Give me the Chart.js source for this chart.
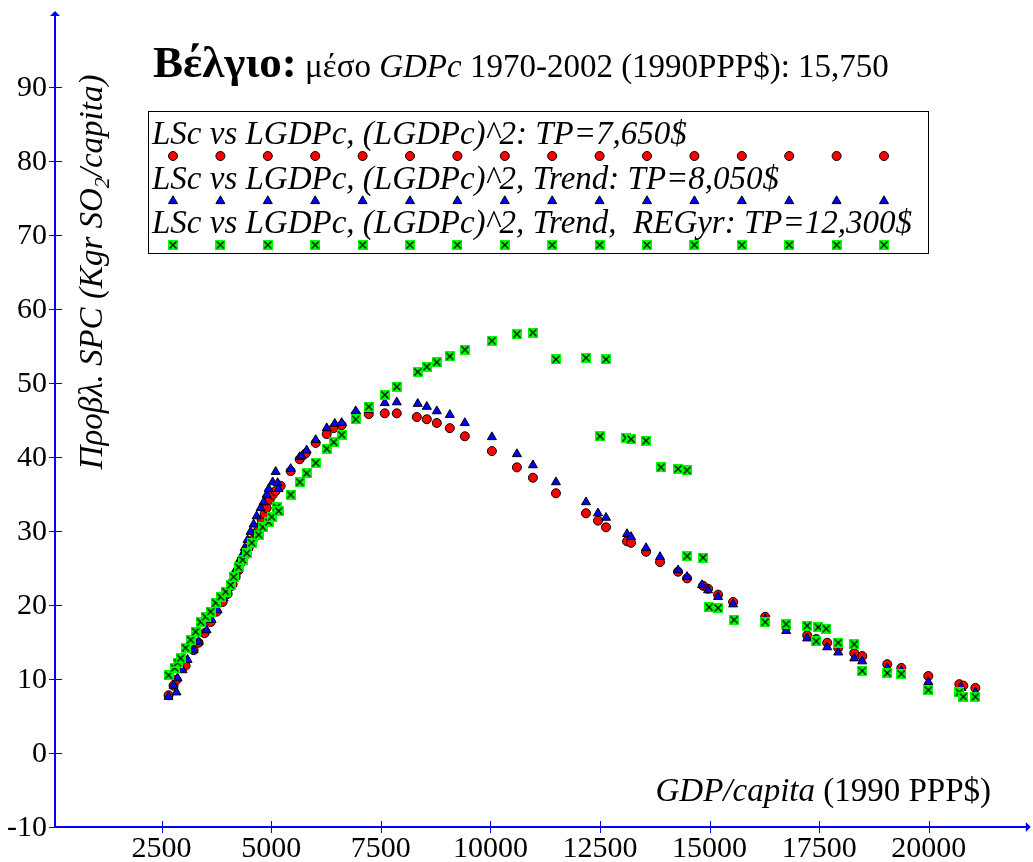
<!DOCTYPE html>
<html>
<head>
<meta charset="utf-8">
<title>Βέλγιο: SPC vs GDPc</title>
<script src="https://cdn.jsdelivr.net/npm/chart.js@4.4.0/dist/chart.umd.min.js"></script>
<style>
  html, body { margin: 0; padding: 0; background: #fff; }
  canvas { display: block; }
</style>
</head>
<body>
<canvas id="chart" width="1033" height="862"></canvas>
<script>
// ---- axis ticks ----
const xTicks = [2500, 5000, 7500, 10000, 12500, 15000, 17500, 20000];
const yTicks = [-10, 0, 10, 20, 30, 40, 50, 60, 70, 80, 90];

// ---- LSc vs LGDPc, (LGDPc)^2 ----
const quadGdp = [
  2660, 2774, 2842, 3048, 3231, 3345, 3482, 3619, 3756, 3893,
  4007, 4121, 4190, 4258, 4326, 4418, 4486, 4578, 4646, 4715,
  4783, 4852, 4897, 4966, 5034, 5103, 5217, 5445, 5651, 5788,
  6016, 6267, 6427, 6609, 6929, 7226, 7591, 7865, 8322, 8550,
  8778, 9075, 9417, 10034, 10605, 10970, 11495, 12180, 12454, 12637,
  13116, 13208, 13550, 13869, 14280, 14486, 14851, 14965, 15193, 15536,
  16267, 16746, 17225, 17431, 17682, 17933, 18298, 18481, 19052, 19372,
  19988, 20696, 20787, 21061
];
const quadSpc = [
  7.8, 9.1, 9.9, 11.8, 13.9, 14.9, 16.2, 17.7, 19.1, 20.4,
  21.5, 22.8, 23.8, 24.7, 25.8, 26.8, 27.7, 28.8, 29.7, 30.5,
  31.5, 32.3, 33.1, 34.2, 34.9, 35.4, 36.1, 38.1, 39.7, 40.5,
  41.9, 43.1, 43.9, 44.3, 45.8, 45.8, 45.9, 45.9, 45.4, 45.1,
  44.6, 43.9, 42.8, 40.8, 38.6, 37.2, 35.1, 32.4, 31.4, 30.5,
  28.6, 28.4, 27.2, 25.8, 24.5, 23.6, 22.6, 22.2, 21.4, 20.4,
  18.4, 17.0, 15.9, 15.4, 14.9, 14.2, 13.5, 13.1, 12.0, 11.5,
  10.4, 9.3, 9.1, 8.8
];

// ---- LSc vs LGDPc, (LGDPc)^2, Trend ----
const trendGdp = [
  2660, 2842, 2774, 2865, 2979, 3094, 3231, 3345, 3527, 3642,
  3778, 3915, 4030, 4121, 4190, 4258, 4326, 4395, 4463, 4532,
  4600, 4669, 4760, 4829, 4897, 4943, 5034, 5103, 5148, 5171,
  5445, 5651, 5696, 5810, 6016, 6267, 6450, 6609, 6929, 7226,
  7591, 7865, 8344, 8550, 8778, 9075, 9417, 10034, 10605, 10970,
  11495, 12180, 12454, 12637, 13116, 13208, 13550, 13869, 14280, 14486,
  14828, 14965, 15193, 15536, 16267, 16746, 17225, 17431, 17682, 17933,
  18298, 18481, 19052, 19372, 19988, 20741, 21061
];
const trendSpc = [
  7.6, 8.2, 9.1, 10.1, 11.2, 12.6, 13.9, 15.0, 16.6, 18.0,
  19.3, 20.9, 22.3, 23.6, 24.7, 25.8, 26.6, 27.7, 28.8, 29.9,
  30.9, 32.0, 33.1, 33.9, 34.9, 35.7, 36.6, 38.0, 36.5, 35.7,
  38.4, 40.0, 40.1, 40.9, 42.3, 43.9, 44.5, 44.6, 46.2, 46.4,
  47.3, 47.4, 47.2, 46.8, 46.2, 45.7, 44.6, 42.7, 40.4, 38.9,
  36.6, 33.9, 32.4, 31.8, 29.6, 29.2, 27.7, 26.5, 24.7, 23.8,
  22.7, 22.0, 21.1, 20.1, 18.1, 16.5, 15.5, 14.9, 14.3, 13.6,
  12.8, 12.4, 11.5, 11.1, 9.6, 8.8, 8.2
];

// ---- LSc vs LGDPc, (LGDPc)^2, Trend, REGyr ----
const regyrGdp = [
  2660, 2797, 2865, 2934, 3048, 3162, 3276, 3391, 3505, 3619,
  3733, 3847, 3961, 4075, 4144, 4258, 4349, 4441, 4555, 4715,
  4806, 4943, 5011, 5125, 5171, 5445, 5651, 5810, 6016, 6267,
  6427, 6609, 6929, 7226, 7591, 7865, 8344, 8550, 8778, 9075,
  9417, 10034, 10605, 10970, 11495, 12180, 12637, 12500, 13094, 13208,
  13550, 13892, 14280, 14486, 14486, 14851, 14988, 15193, 15559, 16267,
  16746, 17225, 17431, 17477, 17659, 17933, 18298, 18481, 19052, 19372,
  19988, 20696, 20787, 21061
];
const regyrSpc = [
  10.5, 11.5, 12.2, 12.8, 14.2, 15.3, 16.4, 17.7, 18.4, 19.1,
  20.3, 21.1, 21.8, 22.7, 23.8, 25.1, 26.1, 27.0, 28.4, 29.5,
  30.5, 31.2, 31.9, 33.2, 32.7, 34.9, 36.6, 37.8, 39.2, 41.1,
  42.0, 43.0, 45.1, 46.8, 48.4, 49.5, 51.5, 52.2, 52.8, 53.6,
  54.5, 55.7, 56.6, 56.8, 53.2, 53.4, 53.2, 42.8, 42.6, 42.4,
  42.2, 38.6, 38.4, 38.2, 26.6, 26.4, 19.7, 19.6, 18.0, 17.7,
  17.4, 17.2, 15.1, 17.0, 16.8, 14.9, 14.7, 11.1, 10.8, 10.7,
  8.5, 8.2, 7.6, 7.6
];

const legendLabels = [
  'LSc vs LGDPc, (LGDPc)^2: TP=7,650$',
  'LSc vs LGDPc, (LGDPc)^2, Trend: TP=8,050$',
  'LSc vs LGDPc, (LGDPc)^2, Trend,  REGyr: TP=12,300$'
];

const SERIF = "'Liberation Serif', 'Times New Roman', 'DejaVu Serif', serif";
const AXIS_BLUE = '#0000ff';

function toPoints(xs, ys) {
  return xs.map((x, i) => ({ x: x, y: ys[i] }));
}

// green square with a black cross, used as the REGyr marker
function crossBox(size) {
  const c = document.createElement('canvas');
  c.width = size;
  c.height = size;
  const g = c.getContext('2d');
  g.fillStyle = '#00ff00';
  g.fillRect(0, 0, size, size);
  g.strokeStyle = '#000';
  g.lineWidth = 1.2;
  g.beginPath();
  g.moveTo(1.5, 1.5);
  g.lineTo(size - 1.5, size - 1.5);
  g.moveTo(size - 1.5, 1.5);
  g.lineTo(1.5, size - 1.5);
  g.stroke();
  return c;
}
const crossMarker = crossBox(10);

function drawCircle(ctx, x, y) {
  ctx.beginPath();
  ctx.arc(x, y, 4.5, 0, Math.PI * 2);
  ctx.fillStyle = '#ff0000';
  ctx.fill();
  ctx.lineWidth = 1;
  ctx.strokeStyle = '#000';
  ctx.stroke();
}

function drawTriangle(ctx, x, y) {
  const r = 5.2;
  ctx.beginPath();
  for (let k = 0; k < 3; k++) {
    const a = k * 2 * Math.PI / 3;
    const px = x + Math.sin(a) * r;
    const py = y - Math.cos(a) * r;
    if (k === 0) ctx.moveTo(px, py); else ctx.lineTo(px, py);
  }
  ctx.closePath();
  ctx.fillStyle = AXIS_BLUE;
  ctx.fill();
  ctx.lineWidth = 1;
  ctx.strokeStyle = '#000';
  ctx.stroke();
}

// draws runs of text with different fonts one after another, returns end x
function drawRuns(ctx, runs, x, y) {
  let cx = x;
  runs.forEach(r => {
    ctx.font = r.font;
    ctx.fillText(r.text, cx, y + (r.dy || 0));
    cx += ctx.measureText(r.text).width;
  });
  return cx;
}
function runsWidth(ctx, runs) {
  let w = 0;
  runs.forEach(r => {
    ctx.font = r.font;
    w += ctx.measureText(r.text).width;
  });
  return w;
}

const axesPlugin = {
  id: 'blueAxes',
  beforeDatasetsDraw(chart) {
    const ctx = chart.ctx;
    const xs = chart.scales.x;
    const ys = chart.scales.y;
    const left = chart.chartArea.left;
    const bottom = chart.chartArea.bottom;
    const top = chart.chartArea.top;
    const right = chart.chartArea.right;

    ctx.save();
    ctx.strokeStyle = AXIS_BLUE;
    ctx.fillStyle = AXIS_BLUE;

    // axis lines
    ctx.lineWidth = 2;
    ctx.beginPath();
    ctx.moveTo(left, bottom);
    ctx.lineTo(left, top + 2);
    ctx.moveTo(left - 1, bottom);
    ctx.lineTo(right, bottom);
    ctx.stroke();

    // arrow heads
    ctx.beginPath();
    ctx.moveTo(left, top - 2);
    ctx.lineTo(left - 5, top + 3);
    ctx.lineTo(left + 5, top + 3);
    ctx.closePath();
    ctx.fill();
    ctx.beginPath();
    ctx.moveTo(right + 4, bottom);
    ctx.lineTo(right - 1, bottom - 5);
    ctx.lineTo(right - 1, bottom + 5);
    ctx.closePath();
    ctx.fill();

    // tick marks
    ctx.lineWidth = 1;
    ctx.beginPath();
    yTicks.forEach(v => {
      const py = Math.round(ys.getPixelForValue(v)) + 0.5;
      ctx.moveTo(left - 6, py);
      ctx.lineTo(left + 7, py);
    });
    xTicks.forEach(v => {
      const px = Math.round(xs.getPixelForValue(v)) + 0.5;
      ctx.moveTo(px, bottom - 6);
      ctx.lineTo(px, bottom + 6);
    });
    ctx.stroke();

    // tick labels
    ctx.fillStyle = '#000';
    ctx.font = '30px ' + SERIF;
    ctx.textAlign = 'right';
    ctx.textBaseline = 'middle';
    yTicks.forEach(v => {
      ctx.fillText(String(v), left - 8, ys.getPixelForValue(v) + 1);
    });
    ctx.textAlign = 'center';
    ctx.textBaseline = 'alphabetic';
    xTicks.forEach(v => {
      ctx.fillText(String(v), xs.getPixelForValue(v), bottom + 30);
    });
    ctx.restore();
  },
  afterDraw(chart) {
    const ctx = chart.ctx;
    ctx.save();
    ctx.fillStyle = '#000';
    ctx.textAlign = 'left';
    ctx.textBaseline = 'alphabetic';

    // title
    drawRuns(ctx, [
      { text: 'Βέλγιο:', font: 'bold 45px ' + SERIF },
      { text: ' ', font: '33px ' + SERIF },
      { text: 'μέσο ', font: '33px ' + SERIF },
      { text: 'GDPc', font: 'italic 33px ' + SERIF },
      { text: ' 1970-2002 (1990PPP$): 15,750', font: '33px ' + SERIF }
    ], 153, 77);

    // x axis title, right aligned
    const xRuns = [
      { text: 'GDP/capita', font: 'italic 33px ' + SERIF },
      { text: ' (1990 PPP$)', font: '33px ' + SERIF }
    ];
    drawRuns(ctx, xRuns, 991 - runsWidth(ctx, xRuns), 801);

    // y axis title, rotated, with SO2 subscript
    const yRuns = [
      { text: 'Προβλ. SPC (Kgr SO', font: 'italic 33px ' + SERIF },
      { text: '2', font: 'italic 22px ' + SERIF, dy: 7 },
      { text: '/capita)', font: 'italic 33px ' + SERIF }
    ];
    ctx.translate(102, 272);
    ctx.rotate(-Math.PI / 2);
    drawRuns(ctx, yRuns, -runsWidth(ctx, yRuns) / 2, 0);
    ctx.setTransform(1, 0, 0, 1, 0, 0);

    // legend box
    ctx.strokeStyle = '#000';
    ctx.lineWidth = 1;
    ctx.strokeRect(148.5, 111.5, 780, 142);
    const textY = [144, 189, 233];
    const markY = [156, 201, 245];
    legendLabels.forEach((label, i) => {
      ctx.fillStyle = '#000';
      ctx.font = 'italic 33px ' + SERIF;
      ctx.fillText(label, 152, textY[i]);
      for (let k = 0; k < 16; k++) {
        const mx = 173 + k * 47.4;
        if (i === 0) drawCircle(ctx, mx, markY[i]);
        else if (i === 1) drawTriangle(ctx, mx, markY[i]);
        else ctx.drawImage(crossMarker, mx - 5, markY[i] - 5);
      }
    });
    ctx.restore();
  }
};

new Chart(document.getElementById('chart'), {
  type: 'scatter',
  data: {
    datasets: [
      {
        label: legendLabels[0],
        data: toPoints(quadGdp, quadSpc),
        pointStyle: 'circle',
        pointRadius: 4.5,
        backgroundColor: '#ff0000',
        borderColor: '#000',
        borderWidth: 1,
        order: 3
      },
      {
        label: legendLabels[1],
        data: toPoints(trendGdp, trendSpc),
        pointStyle: 'triangle',
        pointRadius: 5.2,
        backgroundColor: AXIS_BLUE,
        borderColor: '#000',
        borderWidth: 1,
        order: 2
      },
      {
        label: legendLabels[2],
        data: toPoints(regyrGdp, regyrSpc),
        pointStyle: crossMarker,
        pointRadius: 5,
        order: 1
      }
    ]
  },
  options: {
    responsive: false,
    animation: false,
    devicePixelRatio: 1,
    layout: {
      padding: { left: 55, right: 5, top: 13, bottom: 35 }
    },
    scales: {
      x: { type: 'linear', min: 70, max: 22234, display: false },
      y: { type: 'linear', min: -10, max: 100, display: false }
    },
    plugins: {
      legend: { display: false },
      tooltip: { enabled: false }
    }
  },
  plugins: [axesPlugin]
});
</script>
</body>
</html>
